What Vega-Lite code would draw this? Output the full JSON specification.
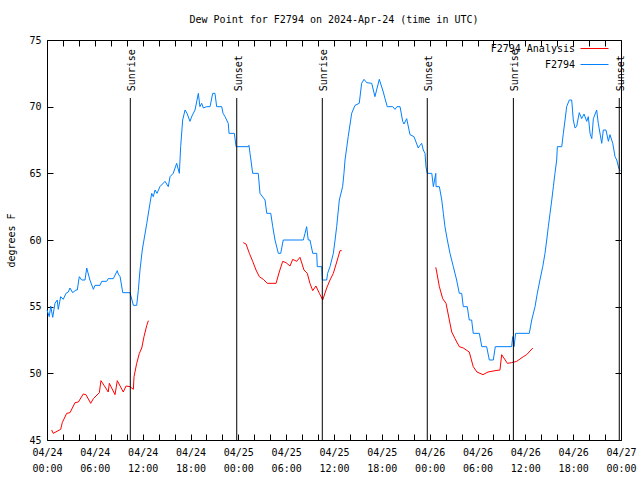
{
 "$schema": "https://vega.github.io/schema/vega-lite/v6.json",
 "width": 574, "height": 400,
 "autosize": {"type": "none"},
 "padding": {"left": 47, "top": 40, "right": 19, "bottom": 40},
 "background": "white",
 "title": {"text": "Dew Point for F2794 on 2024-Apr-24 (time in UTC)", "font": "DejaVu Sans Mono", "fontSize": 10, "fontWeight": "normal", "color": "black", "anchor": "middle", "offset": 10},
 "config": {
  "view": {"stroke": "black", "strokeWidth": 1},
  "axis": {"labelFont": "DejaVu Sans Mono", "labelFontSize": 10, "labelColor": "black", "titleFont": "DejaVu Sans Mono", "titleFontSize": 10, "titleFontWeight": "normal", "titleColor": "black", "tickColor": "black", "tickWidth": 1, "domain": false, "grid": false}
 },
 "resolve": {"axis": {"x": "independent", "y": "independent"}},
 "layer": [
  {
   "data": {"values": [
    {"t":"2024-04-24T00:00:00Z","v":54.75},{"t":"2024-04-24T00:17:00Z","v":54.25},{"t":"2024-04-24T00:28:00Z","v":55.05},{"t":"2024-04-24T00:43:00Z","v":54.2},
    {"t":"2024-04-24T01:00:00Z","v":55.25},{"t":"2024-04-24T01:17:00Z","v":55.5},{"t":"2024-04-24T01:25:00Z","v":54.8},{"t":"2024-04-24T01:43:00Z","v":55.75},
    {"t":"2024-04-24T02:02:00Z","v":55.55},{"t":"2024-04-24T02:23:00Z","v":56.0},{"t":"2024-04-24T02:40:00Z","v":56.1},{"t":"2024-04-24T02:53:00Z","v":56.4},
    {"t":"2024-04-24T03:13:00Z","v":56.05},{"t":"2024-04-24T03:38:00Z","v":56.25},{"t":"2024-04-24T03:48:00Z","v":56.25},{"t":"2024-04-24T04:03:00Z","v":57.25},
    {"t":"2024-04-24T04:21:00Z","v":57.0},{"t":"2024-04-24T04:46:00Z","v":57.0},{"t":"2024-04-24T04:59:00Z","v":57.9},{"t":"2024-04-24T05:23:00Z","v":57.0},
    {"t":"2024-04-24T05:49:00Z","v":56.3},{"t":"2024-04-24T06:01:00Z","v":56.6},{"t":"2024-04-24T06:39:00Z","v":56.6},{"t":"2024-04-24T06:52:00Z","v":56.9},
    {"t":"2024-04-24T07:29:00Z","v":56.9},{"t":"2024-04-24T07:41:00Z","v":57.1},{"t":"2024-04-24T08:19:00Z","v":57.1},{"t":"2024-04-24T08:49:00Z","v":57.7},
    {"t":"2024-04-24T08:56:00Z","v":57.45},{"t":"2024-04-24T09:10:00Z","v":57.25},{"t":"2024-04-24T09:30:00Z","v":56.05},{"t":"2024-04-24T10:25:00Z","v":56.05},
    {"t":"2024-04-24T10:50:00Z","v":55.1},{"t":"2024-04-24T11:15:00Z","v":55.1},{"t":"2024-04-24T11:27:00Z","v":56.2},{"t":"2024-04-24T11:40:00Z","v":57.75},
    {"t":"2024-04-24T11:57:00Z","v":59.25},{"t":"2024-04-24T12:31:00Z","v":61.25},{"t":"2024-04-24T12:55:00Z","v":62.75},{"t":"2024-04-24T13:08:00Z","v":63.5},
    {"t":"2024-04-24T13:20:00Z","v":63.25},{"t":"2024-04-24T13:33:00Z","v":63.75},{"t":"2024-04-24T13:48:00Z","v":63.5},{"t":"2024-04-24T14:10:00Z","v":64.0},
    {"t":"2024-04-24T14:48:00Z","v":64.4},{"t":"2024-04-24T15:13:00Z","v":64.0},{"t":"2024-04-24T15:26:00Z","v":64.75},{"t":"2024-04-24T15:50:00Z","v":65.0},
    {"t":"2024-04-24T16:16:00Z","v":65.75},{"t":"2024-04-24T16:36:00Z","v":65.0},{"t":"2024-04-24T16:46:00Z","v":67.0},{"t":"2024-04-24T17:01:00Z","v":69.0},
    {"t":"2024-04-24T17:19:00Z","v":69.75},{"t":"2024-04-24T17:34:00Z","v":69.5},{"t":"2024-04-24T17:56:00Z","v":68.9},{"t":"2024-04-24T18:11:00Z","v":69.3},
    {"t":"2024-04-24T18:34:00Z","v":69.75},{"t":"2024-04-24T18:59:00Z","v":71.0},{"t":"2024-04-24T19:11:00Z","v":70.0},{"t":"2024-04-24T19:24:00Z","v":70.25},
    {"t":"2024-04-24T19:37:00Z","v":69.9},{"t":"2024-04-24T20:02:00Z","v":70.0},{"t":"2024-04-24T20:27:00Z","v":70.0},{"t":"2024-04-24T20:47:00Z","v":71.0},
    {"t":"2024-04-24T21:04:00Z","v":71.0},{"t":"2024-04-24T21:17:00Z","v":70.0},{"t":"2024-04-24T21:55:00Z","v":70.0},{"t":"2024-04-24T22:05:00Z","v":69.5},
    {"t":"2024-04-24T22:20:00Z","v":69.25},{"t":"2024-04-24T22:44:00Z","v":68.75},{"t":"2024-04-24T22:50:00Z","v":68.0},{"t":"2024-04-24T23:30:00Z","v":68.0},
    {"t":"2024-04-24T23:43:00Z","v":67.0},{"t":"2024-04-25T01:15:00Z","v":67.0},{"t":"2024-04-25T01:20:00Z","v":67.1},{"t":"2024-04-25T01:28:00Z","v":66.5},
    {"t":"2024-04-25T01:48:00Z","v":65.0},{"t":"2024-04-25T02:30:00Z","v":65.0},{"t":"2024-04-25T02:43:00Z","v":63.5},{"t":"2024-04-25T03:21:00Z","v":63.0},
    {"t":"2024-04-25T03:34:00Z","v":62.0},{"t":"2024-04-25T04:04:00Z","v":62.0},{"t":"2024-04-25T04:19:00Z","v":61.0},{"t":"2024-04-25T04:36:00Z","v":60.0},
    {"t":"2024-04-25T05:01:00Z","v":59.0},{"t":"2024-04-25T05:19:00Z","v":59.0},{"t":"2024-04-25T05:38:00Z","v":60.0},{"t":"2024-04-25T08:09:00Z","v":60.0},
    {"t":"2024-04-25T08:22:00Z","v":60.5},{"t":"2024-04-25T08:34:00Z","v":61.0},{"t":"2024-04-25T08:46:00Z","v":60.0},{"t":"2024-04-25T08:59:00Z","v":60.0},
    {"t":"2024-04-25T09:20:00Z","v":59.0},{"t":"2024-04-25T09:50:00Z","v":59.0},{"t":"2024-04-25T09:54:00Z","v":58.0},{"t":"2024-04-25T10:28:00Z","v":58.0},
    {"t":"2024-04-25T10:32:00Z","v":57.0},{"t":"2024-04-25T11:05:00Z","v":57.0},{"t":"2024-04-25T11:12:00Z","v":57.5},{"t":"2024-04-25T11:30:00Z","v":58.0},
    {"t":"2024-04-25T11:55:00Z","v":59.0},{"t":"2024-04-25T12:08:00Z","v":60.0},{"t":"2024-04-25T12:20:00Z","v":61.0},{"t":"2024-04-25T12:40:00Z","v":63.0},
    {"t":"2024-04-25T13:05:00Z","v":64.0},{"t":"2024-04-25T13:15:00Z","v":65.0},{"t":"2024-04-25T13:23:00Z","v":66.0},{"t":"2024-04-25T13:47:00Z","v":67.75},
    {"t":"2024-04-25T14:13:00Z","v":69.5},{"t":"2024-04-25T14:38:00Z","v":70.1},{"t":"2024-04-25T15:10:00Z","v":70.25},{"t":"2024-04-25T15:28:00Z","v":71.75},
    {"t":"2024-04-25T15:46:00Z","v":72.05},{"t":"2024-04-25T16:06:00Z","v":71.8},{"t":"2024-04-25T16:44:00Z","v":71.75},{"t":"2024-04-25T17:08:00Z","v":70.75},
    {"t":"2024-04-25T17:41:00Z","v":72.05},{"t":"2024-04-25T18:11:00Z","v":71.1},{"t":"2024-04-25T18:24:00Z","v":70.6},{"t":"2024-04-25T18:41:00Z","v":70.0},
    {"t":"2024-04-25T19:22:00Z","v":70.0},{"t":"2024-04-25T19:39:00Z","v":69.8},{"t":"2024-04-25T19:54:00Z","v":70.0},{"t":"2024-04-25T20:17:00Z","v":70.0},
    {"t":"2024-04-25T20:37:00Z","v":68.9},{"t":"2024-04-25T20:47:00Z","v":68.7},{"t":"2024-04-25T21:07:00Z","v":69.1},{"t":"2024-04-25T21:32:00Z","v":67.9},
    {"t":"2024-04-25T22:02:00Z","v":67.75},{"t":"2024-04-25T22:34:00Z","v":66.9},{"t":"2024-04-25T22:47:00Z","v":67.1},{"t":"2024-04-25T23:00:00Z","v":67.25},
    {"t":"2024-04-25T23:12:00Z","v":66.75},{"t":"2024-04-25T23:25:00Z","v":66.5},{"t":"2024-04-25T23:32:00Z","v":65.5},{"t":"2024-04-25T23:42:00Z","v":65.0},
    {"t":"2024-04-26T00:16:00Z","v":65.0},{"t":"2024-04-26T00:28:00Z","v":64.0},{"t":"2024-04-26T00:46:00Z","v":65.0},{"t":"2024-04-26T00:48:00Z","v":64.0},
    {"t":"2024-04-26T01:13:00Z","v":64.0},{"t":"2024-04-26T01:31:00Z","v":63.0},{"t":"2024-04-26T01:43:00Z","v":62.0},{"t":"2024-04-26T01:55:00Z","v":61.0},
    {"t":"2024-04-26T02:13:00Z","v":60.0},{"t":"2024-04-26T02:33:00Z","v":59.0},{"t":"2024-04-26T02:58:00Z","v":58.0},{"t":"2024-04-26T03:23:00Z","v":57.0},
    {"t":"2024-04-26T03:43:00Z","v":56.0},{"t":"2024-04-26T04:01:00Z","v":56.0},{"t":"2024-04-26T04:13:00Z","v":55.0},{"t":"2024-04-26T04:43:00Z","v":55.0},
    {"t":"2024-04-26T04:58:00Z","v":54.0},{"t":"2024-04-26T05:16:00Z","v":54.0},{"t":"2024-04-26T05:28:00Z","v":53.0},{"t":"2024-04-26T06:14:00Z","v":53.0},
    {"t":"2024-04-26T06:32:00Z","v":52.0},{"t":"2024-04-26T07:09:00Z","v":52.0},{"t":"2024-04-26T07:29:00Z","v":51.0},{"t":"2024-04-26T07:59:00Z","v":51.0},
    {"t":"2024-04-26T08:14:00Z","v":52.0},{"t":"2024-04-26T10:17:00Z","v":52.0},{"t":"2024-04-26T10:25:00Z","v":52.75},{"t":"2024-04-26T10:35:00Z","v":52.0},
    {"t":"2024-04-26T10:47:00Z","v":53.0},{"t":"2024-04-26T12:30:00Z","v":53.0},{"t":"2024-04-26T12:48:00Z","v":54.0},{"t":"2024-04-26T13:13:00Z","v":55.0},
    {"t":"2024-04-26T13:30:00Z","v":56.0},{"t":"2024-04-26T13:50:00Z","v":57.0},{"t":"2024-04-26T14:11:00Z","v":58.0},{"t":"2024-04-26T14:28:00Z","v":59.0},
    {"t":"2024-04-26T14:41:00Z","v":60.0},{"t":"2024-04-26T14:53:00Z","v":61.0},{"t":"2024-04-26T15:06:00Z","v":62.0},{"t":"2024-04-26T15:19:00Z","v":63.0},
    {"t":"2024-04-26T15:31:00Z","v":64.0},{"t":"2024-04-26T15:43:00Z","v":65.0},{"t":"2024-04-26T15:56:00Z","v":66.0},{"t":"2024-04-26T16:01:00Z","v":67.0},
    {"t":"2024-04-26T16:34:00Z","v":67.0},{"t":"2024-04-26T16:46:00Z","v":68.0},{"t":"2024-04-26T16:59:00Z","v":69.0},{"t":"2024-04-26T17:11:00Z","v":70.0},
    {"t":"2024-04-26T17:31:00Z","v":70.5},{"t":"2024-04-26T17:49:00Z","v":70.5},{"t":"2024-04-26T18:01:00Z","v":69.0},{"t":"2024-04-26T18:14:00Z","v":68.4},
    {"t":"2024-04-26T18:26:00Z","v":68.5},{"t":"2024-04-26T18:46:00Z","v":69.55},{"t":"2024-04-26T19:04:00Z","v":69.1},{"t":"2024-04-26T19:22:00Z","v":69.45},
    {"t":"2024-04-26T19:42:00Z","v":68.9},{"t":"2024-04-26T19:54:00Z","v":69.25},{"t":"2024-04-26T20:07:00Z","v":68.0},{"t":"2024-04-26T20:20:00Z","v":67.6},
    {"t":"2024-04-26T20:32:00Z","v":69.1},{"t":"2024-04-26T20:57:00Z","v":69.75},{"t":"2024-04-26T21:09:00Z","v":68.75},{"t":"2024-04-26T21:35:00Z","v":67.25},
    {"t":"2024-04-26T21:47:00Z","v":68.25},{"t":"2024-04-26T22:07:00Z","v":68.25},{"t":"2024-04-26T22:25:00Z","v":67.4},{"t":"2024-04-26T22:37:00Z","v":67.9},
    {"t":"2024-04-26T22:58:00Z","v":67.25},{"t":"2024-04-26T23:15:00Z","v":66.25},{"t":"2024-04-26T23:28:00Z","v":66.0},{"t":"2024-04-26T23:43:00Z","v":65.4},
    {"t":"2024-04-26T23:53:00Z","v":65.2}
   ]},
   "mark": {"type": "line", "strokeWidth": 1},
   "encoding": {
    "x": {"field": "t", "type": "temporal",
     "scale": {"type": "utc", "domain": [1713916800000, 1714176000000]},
     "axis": {"orient": "bottom", "title": null,
      "values": [1713916800000,1713924000000,1713931200000,1713938400000,1713945600000,1713952800000,1713960000000,1713967200000,1713974400000,1713981600000,1713988800000,1713996000000,1714003200000,1714010400000,1714017600000,1714024800000,1714032000000,1714039200000,1714046400000,1714053600000,1714060800000,1714068000000,1714075200000,1714082400000,1714089600000,1714096800000,1714104000000,1714111200000,1714118400000,1714125600000,1714132800000,1714140000000,1714147200000,1714154400000,1714161600000,1714168800000,1714176000000],
      "tickSize": -6, "labelPadding": 13,
      "labelExpr": "utchours(datum.value) % 6 === 0 ? [utcFormat(datum.value, '%m/%d'), utcFormat(datum.value, '%H:%M')] : ''",
      "labelOverlap": false, "labelFlush": false, "labelLineHeight": 16, "labelBaseline": "top",
      "encode": {"ticks": {"update": {"y2": {"signal": "utchours(datum.value) % 6 === 0 ? -6 : -3"}}}}}},
    "y": {"field": "v", "type": "quantitative", "scale": {"domain": [45, 75], "nice": false, "zero": false},
     "axis": {"orient": "left", "title": "degrees F", "values": [45, 50, 55, 60, 65, 70, 75], "tickSize": -6, "labelPadding": 12, "titlePadding": 12}},
    "color": {"datum": "F2794", "type": "nominal",
     "scale": {"domain": ["F2794 Analysis", "F2794"], "range": ["#ff0000", "#0080ff"]},
     "legend": {"orient": "none", "legendX": 542, "legendY": 3, "title": null, "symbolType": "M-2.8,0H2.8", "symbolSize": 100, "symbolStrokeWidth": 1, "symbolFillColor": "transparent", "symbolOpacity": 1, "labelAlign": "right", "labelOffset": -25, "labelFont": "DejaVu Sans Mono", "labelFontSize": 10, "labelColor": "black", "padding": 0, "rowPadding": 5,
      "encode": {"symbols": {"update": {"stroke": {"signal": "datum.value === 'F2794 Analysis' ? '#ff0000' : '#0080ff'"}, "strokeWidth": {"value": 1}, "opacity": {"value": 1}}}}}}
   }
  },
  {
   "data": {"values": [
    {"t":"2024-04-24T00:35:00Z","v":45.75,"seg":1},{"t":"2024-04-24T00:47:00Z","v":45.5,"seg":1},{"t":"2024-04-24T01:43:00Z","v":45.8,"seg":1},{"t":"2024-04-24T01:55:00Z","v":46.3,"seg":1},
    {"t":"2024-04-24T02:28:00Z","v":47.0,"seg":1},{"t":"2024-04-24T02:53:00Z","v":47.05,"seg":1},{"t":"2024-04-24T03:31:00Z","v":47.8,"seg":1},{"t":"2024-04-24T03:56:00Z","v":47.85,"seg":1},
    {"t":"2024-04-24T04:33:00Z","v":48.45,"seg":1},{"t":"2024-04-24T04:53:00Z","v":48.4,"seg":1},{"t":"2024-04-24T05:29:00Z","v":47.75,"seg":1},{"t":"2024-04-24T05:49:00Z","v":48.1,"seg":1},
    {"t":"2024-04-24T06:34:00Z","v":48.55,"seg":1},{"t":"2024-04-24T06:46:00Z","v":49.45,"seg":1},{"t":"2024-04-24T07:09:00Z","v":49.1,"seg":1},{"t":"2024-04-24T07:41:00Z","v":48.6,"seg":1},
    {"t":"2024-04-24T07:49:00Z","v":49.25,"seg":1},{"t":"2024-04-24T08:32:00Z","v":48.4,"seg":1},{"t":"2024-04-24T08:49:00Z","v":49.45,"seg":1},{"t":"2024-04-24T09:34:00Z","v":48.6,"seg":1},
    {"t":"2024-04-24T09:55:00Z","v":49.05,"seg":1},{"t":"2024-04-24T10:25:00Z","v":49.0,"seg":1},{"t":"2024-04-24T10:50:00Z","v":48.8,"seg":1},{"t":"2024-04-24T10:55:00Z","v":49.75,"seg":1},
    {"t":"2024-04-24T11:15:00Z","v":50.75,"seg":1},{"t":"2024-04-24T11:35:00Z","v":51.5,"seg":1},{"t":"2024-04-24T11:53:00Z","v":51.9,"seg":1},{"t":"2024-04-24T12:10:00Z","v":52.75,"seg":1},
    {"t":"2024-04-24T12:31:00Z","v":53.6,"seg":1},{"t":"2024-04-24T12:43:00Z","v":53.95,"seg":1},
    {"t":"2024-04-25T00:37:00Z","v":59.8,"seg":2},{"t":"2024-04-25T00:58:00Z","v":59.7,"seg":2},{"t":"2024-04-25T01:23:00Z","v":59.0,"seg":2},{"t":"2024-04-25T01:48:00Z","v":58.4,"seg":2},
    {"t":"2024-04-25T02:13:00Z","v":57.75,"seg":2},{"t":"2024-04-25T02:38:00Z","v":57.25,"seg":2},{"t":"2024-04-25T03:08:00Z","v":57.05,"seg":2},{"t":"2024-04-25T03:38:00Z","v":56.75,"seg":2},
    {"t":"2024-04-25T04:44:00Z","v":56.75,"seg":2},{"t":"2024-04-25T05:08:00Z","v":57.6,"seg":2},{"t":"2024-04-25T05:34:00Z","v":58.4,"seg":2},{"t":"2024-04-25T05:59:00Z","v":58.3,"seg":2},
    {"t":"2024-04-25T06:29:00Z","v":58.05,"seg":2},{"t":"2024-04-25T06:49:00Z","v":58.55,"seg":2},{"t":"2024-04-25T07:19:00Z","v":58.4,"seg":2},{"t":"2024-04-25T07:44:00Z","v":58.7,"seg":2},
    {"t":"2024-04-25T08:14:00Z","v":57.75,"seg":2},{"t":"2024-04-25T08:39:00Z","v":57.5,"seg":2},{"t":"2024-04-25T08:59:00Z","v":56.75,"seg":2},{"t":"2024-04-25T09:20:00Z","v":56.2,"seg":2},
    {"t":"2024-04-25T09:44:00Z","v":56.55,"seg":2},{"t":"2024-04-25T10:10:00Z","v":56.0,"seg":2},{"t":"2024-04-25T10:35:00Z","v":55.5,"seg":2},{"t":"2024-04-25T11:05:00Z","v":56.4,"seg":2},
    {"t":"2024-04-25T11:30:00Z","v":57.0,"seg":2},{"t":"2024-04-25T11:55:00Z","v":57.5,"seg":2},{"t":"2024-04-25T12:25:00Z","v":58.5,"seg":2},{"t":"2024-04-25T12:45:00Z","v":59.2,"seg":2},
    {"t":"2024-04-25T12:58:00Z","v":59.2,"seg":2},
    {"t":"2024-04-26T00:46:00Z","v":57.95,"seg":3},{"t":"2024-04-26T00:53:00Z","v":57.6,"seg":3},{"t":"2024-04-26T01:13:00Z","v":56.5,"seg":3},{"t":"2024-04-26T01:38:00Z","v":55.6,"seg":3},
    {"t":"2024-04-26T02:03:00Z","v":55.25,"seg":3},{"t":"2024-04-26T02:28:00Z","v":54.0,"seg":3},{"t":"2024-04-26T02:46:00Z","v":53.1,"seg":3},{"t":"2024-04-26T03:11:00Z","v":52.6,"seg":3},
    {"t":"2024-04-26T03:43:00Z","v":52.0,"seg":3},{"t":"2024-04-26T04:13:00Z","v":51.9,"seg":3},{"t":"2024-04-26T04:58:00Z","v":51.6,"seg":3},{"t":"2024-04-26T05:28:00Z","v":50.5,"seg":3},
    {"t":"2024-04-26T05:56:00Z","v":50.1,"seg":3},{"t":"2024-04-26T06:41:00Z","v":49.9,"seg":3},{"t":"2024-04-26T07:19:00Z","v":50.1,"seg":3},{"t":"2024-04-26T08:12:00Z","v":50.2,"seg":3},
    {"t":"2024-04-26T08:49:00Z","v":50.25,"seg":3},{"t":"2024-04-26T09:02:00Z","v":51.4,"seg":3},{"t":"2024-04-26T09:45:00Z","v":50.75,"seg":3},{"t":"2024-04-26T10:17:00Z","v":50.8,"seg":3},
    {"t":"2024-04-26T10:55:00Z","v":50.9,"seg":3},{"t":"2024-04-26T11:45:00Z","v":51.25,"seg":3},{"t":"2024-04-26T12:10:00Z","v":51.4,"seg":3},{"t":"2024-04-26T12:56:00Z","v":51.9,"seg":3}
   ]},
   "mark": {"type": "line", "strokeWidth": 1},
   "encoding": {
    "x": {"field": "t", "type": "temporal",
     "axis": {"orient": "top", "title": null, "labels": false,
      "values": [1713916800000,1713924000000,1713931200000,1713938400000,1713945600000,1713952800000,1713960000000,1713967200000,1713974400000,1713981600000,1713988800000,1713996000000,1714003200000,1714010400000,1714017600000,1714024800000,1714032000000,1714039200000,1714046400000,1714053600000,1714060800000,1714068000000,1714075200000,1714082400000,1714089600000,1714096800000,1714104000000,1714111200000,1714118400000,1714125600000,1714132800000,1714140000000,1714147200000,1714154400000,1714161600000,1714168800000,1714176000000],
      "tickSize": -6,
      "encode": {"ticks": {"update": {"y2": {"signal": "utchours(datum.value) % 6 === 0 ? 6 : 3"}}}}}},
    "y": {"field": "v", "type": "quantitative",
     "axis": {"orient": "right", "title": null, "labels": false, "values": [45, 50, 55, 60, 65, 70, 75], "tickSize": -6}},
    "color": {"datum": "F2794 Analysis", "type": "nominal"},
    "detail": {"field": "seg", "type": "nominal"}
   }
  },
  {
   "data": {"values": [
    {"t":"2024-04-24T10:27:00Z","e":"Sunrise"},{"t":"2024-04-24T23:48:00Z","e":"Sunset"},
    {"t":"2024-04-25T10:32:00Z","e":"Sunrise"},{"t":"2024-04-25T23:42:00Z","e":"Sunset"},
    {"t":"2024-04-26T10:30:00Z","e":"Sunrise"},{"t":"2024-04-26T23:47:00Z","e":"Sunset"}
   ]},
   "layer": [
    {"mark": {"type": "rule", "color": "black", "strokeWidth": 1},
     "encoding": {"x": {"field": "t", "type": "temporal", "axis": null}, "y": {"datum": 70.65, "type": "quantitative", "axis": null}, "y2": {"datum": 45}}},
    {"mark": {"type": "text", "angle": 270, "align": "left", "baseline": "middle", "font": "DejaVu Sans Mono", "fontSize": 10, "color": "black", "dy": 2},
     "encoding": {"x": {"field": "t", "type": "temporal", "axis": null}, "y": {"datum": 71.15, "type": "quantitative", "axis": null}, "text": {"field": "e"}}}
   ]
  }
 ]
}
